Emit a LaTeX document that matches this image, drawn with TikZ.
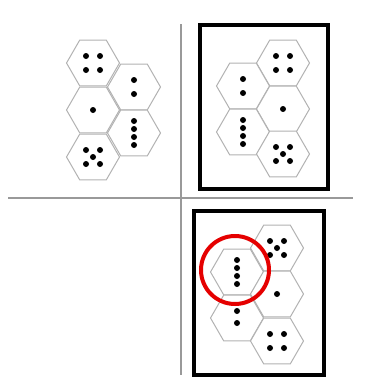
\documentclass[tikz,border=0pt]{standalone}
\begin{document}
\begin{tikzpicture}[x=1pt,y=-1pt]
\tikzset{
  hexcell/.style={draw=black!30,line width=1pt,fill=white},
  pip/.style={fill=black},
  framebox/.style={draw=black,line width=3.5pt},
  axisline/.style={draw=black!40,line width=1.6pt},
  marker/.style={draw=red!90!black,line width=4pt}
}
\newcommand\pr{3}
\newcommand\hexcellat[1]{\path[hexcell] (#1) +(0:26.5) -- +(60:26.5) -- +(120:26.5) -- +(180:26.5) -- +(240:26.5) -- +(300:26.5) -- cycle;}
\newcommand\pipone[1]{\fill[pip] (#1) circle (\pr);}
\newcommand\piptwo[1]{\fill[pip] (#1) +(0,-7) circle (\pr) +(0,7) circle (\pr);}
\newcommand\pipfoursq[1]{\fill[pip] (#1) +(-7,-7) circle (\pr) +(7,-7) circle (\pr) +(-7,7) circle (\pr) +(7,7) circle (\pr);}
\newcommand\pipfourcol[1]{\fill[pip] (#1) +(0,-12) circle (\pr) +(0,-4) circle (\pr) +(0,4) circle (\pr) +(0,12) circle (\pr);}
\newcommand\pipfive[1]{\fill[pip] (#1) +(-7,-7) circle (\pr) +(7,-7) circle (\pr) +(-7,7) circle (\pr) +(7,7) circle (\pr) +(0,0) circle (\pr);}
\useasboundingbox (0,0) rectangle (371,380);
% axes
\coordinate (hl) at (8,198); \coordinate (hr) at (353,198);
\coordinate (vt) at (181,24); \coordinate (vb) at (181,375);
\draw[axisline] (hl) -- (hr);
\draw[axisline] (vt) -- (vb);
% frames
\coordinate (f1a) at (200,25); \coordinate (f1b) at (328,189);
\coordinate (f2a) at (194,211); \coordinate (f2b) at (324,375);
\draw[framebox] (f1a) rectangle (f1b);
\draw[framebox] (f2a) rectangle (f2b);
% left cluster
\coordinate (a1) at (93,63); \coordinate (a2) at (134,87); \coordinate (a3) at (93,110);
\coordinate (a4) at (134,133); \coordinate (a5) at (93,157);
\hexcellat{a1}\hexcellat{a2}\hexcellat{a3}\hexcellat{a4}\hexcellat{a5}
\pipfoursq{a1}\piptwo{a2}\pipone{a3}\pipfourcol{a4}\pipfive{a5}
% upper right cluster
\coordinate (b1) at (283,63); \coordinate (b2) at (243,86); \coordinate (b3) at (283,109);
\coordinate (b4) at (243,132); \coordinate (b5) at (283,154);
\hexcellat{b1}\hexcellat{b2}\hexcellat{b3}\hexcellat{b4}\hexcellat{b5}
\pipfoursq{b1}\piptwo{b2}\pipone{b3}\pipfourcol{b4}\pipfive{b5}
% lower right cluster
\coordinate (c1) at (277,248); \coordinate (c2) at (237,272); \coordinate (c3) at (277,294);
\coordinate (c4) at (237,318); \coordinate (c5) at (277,341);
\hexcellat{c1}\hexcellat{c2}\hexcellat{c3}\hexcellat{c4}\hexcellat{c5}
\pipfive{c1}\pipfourcol{c2}\pipone{c3}\pipfoursq{c5}
\fill[pip] (c4) +(0,-7) circle (\pr) +(0,5) circle (\pr);
\draw[marker] (235,270) circle (34);
\end{tikzpicture}
\end{document}
